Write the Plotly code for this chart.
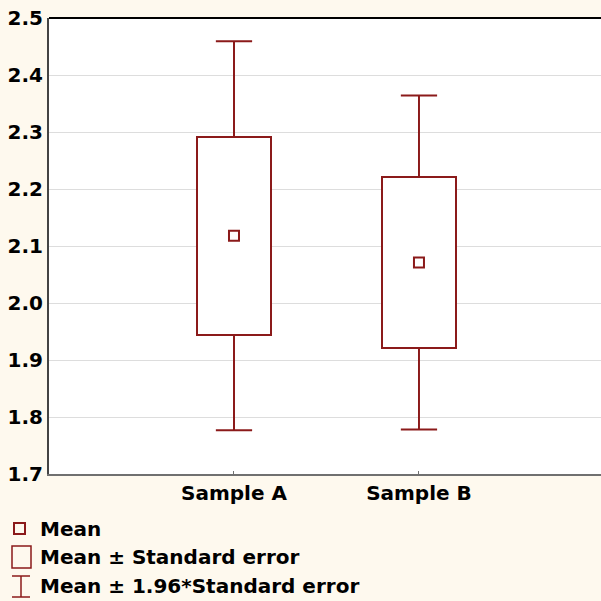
import plotly.graph_objects as go

# ---- data ----
categories = ["Sample A", "Sample B"]
means = [2.118, 2.071]
std_errors = [0.174, 0.1495]
z_factor = 1.96
y_ticks = [1.7, 1.8, 1.9, 2.0, 2.1, 2.2, 2.3, 2.4, 2.5]
legend_labels = ["Mean", "Mean ± Standard error", "Mean ± 1.96*Standard error"]

# ---- style ----
RED = "#8B1A1A"
PAPER = "#FEF9EE"
FONT = dict(family="DejaVu Sans", size=20, color="#000000", weight="bold")
W, H = 601, 601
ML, MR, MT, MB = 49, 0, 18, 127
PW, PH = W - ML - MR, H - MT - MB
BOX_W = 0.395
CAP_HALF = 0.098

xpos = [i + 1 for i in range(len(categories))]

fig = go.Figure()

# boxes: mean ± SE
fig.add_trace(go.Bar(
    x=xpos,
    base=[m - s for m, s in zip(means, std_errors)],
    y=[2 * s for s in std_errors],
    width=BOX_W,
    marker=dict(color="white", line=dict(color=RED, width=2)),
    showlegend=False, hoverinfo="skip",
))

# whiskers: mean ± 1.96*SE
wx, wy = [], []
for x, m, s in zip(xpos, means, std_errors):
    top_box, bot_box = m + s, m - s
    top_w, bot_w = m + z_factor * s, m - z_factor * s
    wx += [x, x, None, x, x, None,
           x - CAP_HALF, x + CAP_HALF, None, x - CAP_HALF, x + CAP_HALF, None]
    wy += [top_box, top_w, None, bot_box, bot_w, None,
           top_w, top_w, None, bot_w, bot_w, None]
fig.add_trace(go.Scatter(x=wx, y=wy, mode="lines",
                         line=dict(color=RED, width=2),
                         showlegend=False, hoverinfo="skip"))

# means
fig.add_trace(go.Scatter(x=xpos, y=means, mode="markers",
                         marker=dict(symbol="square-open", size=10, color=RED,
                                     line=dict(color=RED, width=2)),
                         showlegend=False, hoverinfo="skip"))


def px_x(p):
    return (p - ML) / PW


def px_y(p):
    return (H - MB - p) / PH


shapes = [
    # top border
    dict(type="line", xref="paper", yref="paper", x0=0, x1=1, y0=1, y1=1,
         line=dict(color="#000000", width=2)),
    # legend glyphs
    dict(type="rect", xref="paper", yref="paper",
         x0=px_x(14), x1=px_x(25), y0=px_y(523), y1=px_y(534),
         line=dict(color=RED, width=2), fillcolor="rgba(0,0,0,0)"),
    dict(type="rect", xref="paper", yref="paper",
         x0=px_x(12), x1=px_x(31), y0=px_y(546), y1=px_y(568),
         line=dict(color=RED, width=1.5), fillcolor="rgba(0,0,0,0)"),
    dict(type="line", xref="paper", yref="paper",
         x0=px_x(21), x1=px_x(21), y0=px_y(576), y1=px_y(597),
         line=dict(color=RED, width=1.5)),
    dict(type="line", xref="paper", yref="paper",
         x0=px_x(12), x1=px_x(30), y0=px_y(576), y1=px_y(576),
         line=dict(color=RED, width=1.5)),
    dict(type="line", xref="paper", yref="paper",
         x0=px_x(12), x1=px_x(30), y0=px_y(597), y1=px_y(597),
         line=dict(color=RED, width=1.5)),
]

legend_y = [529, 557, 586]
annotations = [
    dict(text=t, xref="paper", yref="paper", x=px_x(38), y=px_y(yy),
         xanchor="left", yanchor="middle", showarrow=False, font=FONT)
    for t, yy in zip(legend_labels, legend_y)
]

fig.update_layout(
    width=W, height=H,
    margin=dict(l=ML, r=MR, t=MT, b=MB),
    paper_bgcolor=PAPER, plot_bgcolor="white",
    font=FONT,
    shapes=shapes, annotations=annotations,
    showlegend=False,
    bargap=0,
)
fig.update_xaxes(
    range=[0, 2.984], tickvals=xpos, ticktext=categories,
    showgrid=False, zeroline=False,
    showline=True, linecolor="#707070", linewidth=2,
    ticks="inside", ticklen=3, tickcolor="#707070", tickwidth=1,
    tickfont=FONT,
)
fig.update_yaxes(
    range=[1.7, 2.5], tickvals=y_ticks, tickformat=".1f",
    showgrid=True, gridcolor="#DDDDDD", gridwidth=1, zeroline=False,
    showline=True, linecolor="#444444", linewidth=2,
    ticks="", tickfont=FONT,
)

fig.write_html("out.html",
               config={"displayModeBar": False},
               post_script="document.body.style.margin='0';"
                           "document.body.style.padding='0';")
